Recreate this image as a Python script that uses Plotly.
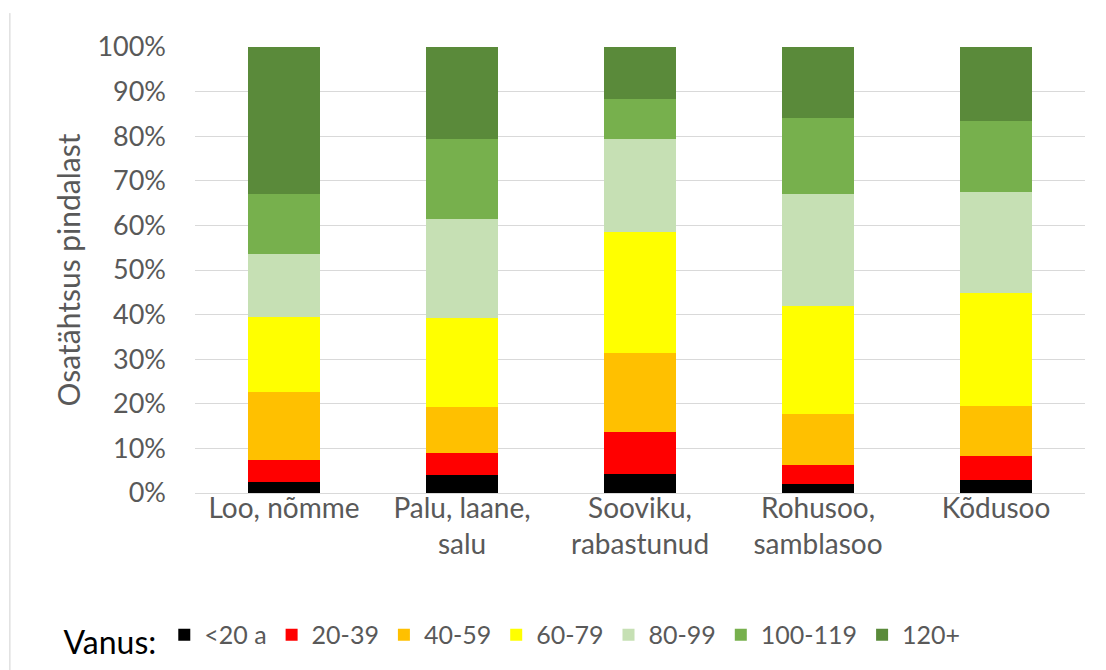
import plotly.graph_objects as go

categories = ["Loo, nõmme", "Palu, laane,<br>salu", "Sooviku,<br>rabastunud", "Rohusoo,<br>samblasoo", "Kõdusoo"]
age_groups = ["<20 a", "20-39", "40-59", "60-79", "80-99", "100-119", "120+"]
colors = ["#000000", "#ff0000", "#ffc000", "#ffff00", "#c6e0b4", "#77b04d", "#5a8a3a"]

v_lt20 = [2.4, 4.0, 4.3, 2.1, 3.0]
v_20_39 = [5.0, 5.0, 9.4, 4.2, 5.4]
v_40_59 = [15.2, 10.3, 17.6, 11.4, 11.2]
v_60_79 = [16.9, 20.0, 27.2, 24.2, 25.2]
v_80_99 = [14.0, 22.1, 20.9, 25.2, 22.6]
v_100_119 = [13.6, 18.0, 9.0, 16.9, 16.0]
v_120p = [32.9, 20.6, 11.6, 16.0, 16.6]
series = [v_lt20, v_20_39, v_40_59, v_60_79, v_80_99, v_100_119, v_120p]

y_tick_vals = [0, 10, 20, 30, 40, 50, 60, 70, 80, 90, 100]
y_tick_labels = ["0%", "10%", "20%", "30%", "40%", "50%", "60%", "70%", "80%", "90%", "100%"]

font_family = "Lato, 'Open Sans', sans-serif"

fig = go.Figure()
for name, vals, col in zip(age_groups, series, colors):
    fig.add_trace(go.Bar(x=categories, y=vals, name=name, marker=dict(color=col, line=dict(width=0))))

fig.update_layout(
    width=1098, height=662,
    barmode="stack", bargap=0.6,
    plot_bgcolor="white", paper_bgcolor="white",
    margin=dict(l=187, r=21, t=39, b=177, autoexpand=False),
    font=dict(family=font_family, color="#595959", size=27),
    showlegend=True,
    legend=dict(
        orientation="h", x=-0.15, xanchor="left", y=-0.325, yanchor="middle",
        title=dict(text="Vanus:", font=dict(size=32, color="#000000")),
        font=dict(size=25, color="#595959"),
        traceorder="normal", itemclick=False,
    ),
    xaxis=dict(showgrid=False, showline=False, ticks="", tickfont=dict(size=28, color="#595959"),
               ticklabelstandoff=-4),
    yaxis=dict(
        range=[0, 100], tickmode="array", tickvals=y_tick_vals, ticktext=y_tick_labels,
        showgrid=True, gridcolor="#d9d9d9", gridwidth=1,
        zeroline=True, zerolinecolor="#d9d9d9", zerolinewidth=1,
        tickfont=dict(size=27, color="#595959"), ticklabelstandoff=28,
        title=dict(text="Osatähtsus pindalast", font=dict(size=30, color="#595959"), standoff=7),
    ),
)
fig.add_shape(type="line", xref="paper", yref="paper", x0=-0.208, x1=-0.208, y0=-0.42, y1=1.076,
              line=dict(color="#d0d0d0", width=1))

fig.write_html("out.html")
